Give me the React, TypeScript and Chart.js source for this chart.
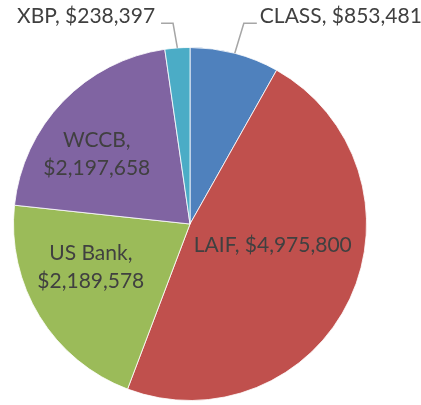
import React, { useEffect, useRef } from "react";
import { Chart, registerables } from "chart.js";

Chart.register(...registerables);

const categories = ["CLASS", "LAIF", "US Bank", "WCCB", "XBP"];
const values = [853481, 4975800, 2189578, 2197658, 238397];
const colors = ["#4F81BD", "#C0504D", "#9BBB59", "#8064A2", "#4BACC6"];

// label layout, in units of the pie radius relative to its centre
type Layout =
  | { kind: "inside"; at: [number, number]; twoLines: boolean }
  | { kind: "outside"; elbow: [number, number]; run: number; gap: number; align: "left" | "right" };

const labelLayouts: Layout[] = [
  { kind: "outside", elbow: [0.305, -1.137], run: 13, gap: 3, align: "left" },
  { kind: "inside", at: [0.469, 0.158], twoLines: false },
  { kind: "inside", at: [-0.562, 0.203], twoLines: true },
  { kind: "inside", at: [-0.528, -0.435], twoLines: true },
  { kind: "outside", elbow: [-0.096, -1.137], run: 12, gap: 6, align: "right" },
];

const FONT = "21px Lato";
const TEXT_COLOR = "#404040";
const LINE_HEIGHT = 28;

const fmt = (v: number) => "$" + v.toLocaleString("en-US");

const labelPlugin = {
  id: "pieLabels",
  afterDatasetsDraw(chart: any) {
    const ctx: CanvasRenderingContext2D = chart.ctx;
    const meta = chart.getDatasetMeta(0);
    ctx.save();
    ctx.font = FONT;
    ctx.fillStyle = TEXT_COLOR;
    ctx.textBaseline = "alphabetic";
    meta.data.forEach((arc: any, i: number) => {
      const p = arc.getProps(["x", "y", "outerRadius", "startAngle", "endAngle"], true);
      const r = p.outerRadius;
      const lay = labelLayouts[i];
      const name = categories[i];
      const val = fmt(values[i]);
      if (lay.kind === "inside") {
        const ax = p.x + lay.at[0] * r;
        const ay = p.y + lay.at[1] * r;
        ctx.textAlign = "center";
        if (lay.twoLines) {
          ctx.fillText(name + ",", ax, ay);
          ctx.fillText(val, ax, ay + LINE_HEIGHT);
        } else {
          ctx.fillText(name + ", " + val, ax, ay);
        }
      } else {
        const mid = (p.startAngle + p.endAngle) / 2;
        const ex = p.x + Math.cos(mid) * r;
        const ey = p.y + Math.sin(mid) * r;
        const bx = p.x + lay.elbow[0] * r;
        const by = p.y + lay.elbow[1] * r;
        const dir = lay.align === "left" ? 1 : -1;
        const hx = bx + dir * lay.run;
        ctx.beginPath();
        ctx.strokeStyle = "#A6A6A6";
        ctx.lineWidth = 1.5;
        ctx.moveTo(ex, ey);
        ctx.lineTo(bx, by);
        ctx.lineTo(hx, by);
        ctx.stroke();
        ctx.textAlign = lay.align;
        ctx.fillText(name + ", " + val, hx + dir * lay.gap, by);
      }
    });
    ctx.restore();
  },
};

export default function App() {
  const ref = useRef<HTMLCanvasElement | null>(null);
  useEffect(() => {
    document.body.style.margin = "0";
    if (!ref.current) return;
    const chart = new Chart(ref.current, {
      type: "pie",
      data: {
        labels: categories,
        datasets: [
          {
            data: values,
            backgroundColor: colors,
            borderColor: "rgba(255,255,255,0.8)",
            borderWidth: 1,
          },
        ],
      },
      options: {
        responsive: false,
        animation: false,
        layout: { padding: { left: 13, right: 54, top: 47, bottom: 4 } },
        plugins: {
          legend: { display: false },
          tooltip: { enabled: false },
        },
      },
      plugins: [labelPlugin],
    });
    return () => chart.destroy();
  }, []);
  return (
    <div style={{ width: 421, height: 405, background: "#fff" }}>
      <canvas ref={ref} width={421} height={405} style={{ display: "block" }} />
    </div>
  );
}
